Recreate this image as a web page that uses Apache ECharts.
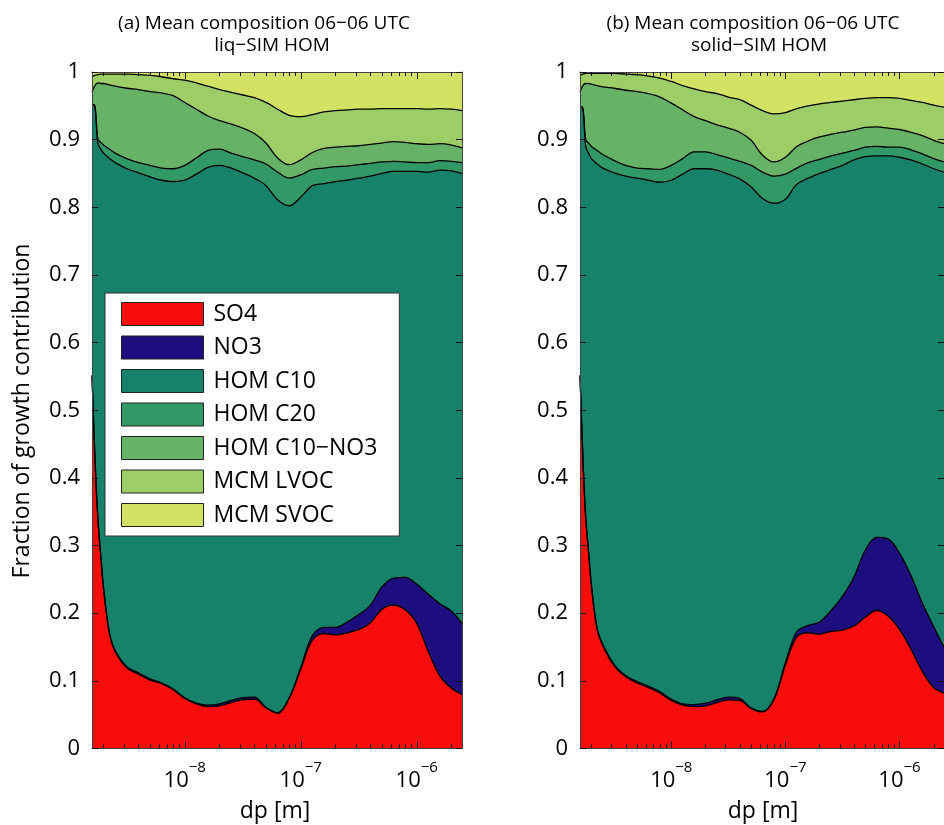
<!DOCTYPE html>
<html><head><meta charset="utf-8">
<script src="https://cdn.jsdelivr.net/npm/echarts@6/dist/echarts.min.js"></script>
<style>html,body{margin:0;padding:0;background:#fff}#c{width:944px;height:825px}</style>
</head><body><div id="c"></div>
<script>
// x positions: log10(dp [m])
const logDp = [-8.8, -8.775, -8.75, -8.725, -8.7, -8.65, -8.6, -8.5, -8.4, -8.3, -8.2, -8.1, -8.0, -7.9, -7.8, -7.7, -7.6, -7.5, -7.4, -7.3, -7.2, -7.1, -7.0, -6.9, -6.8, -6.7, -6.6, -6.5, -6.4, -6.3, -6.2, -6.1, -6.0, -5.9, -5.8, -5.7, -5.61];
const seriesNames = ['SO4', 'NO3', 'HOM C10', 'HOM C20', 'HOM C10\u2212NO3', 'MCM LVOC', 'MCM SVOC'];
const seriesColors = ['#f80c0c', '#1c0e7e', '#17826a', '#309966', '#66b266', '#9ccd66', '#d2e363'];
const xLabelExps = [-8, -7, -6];
const yTickValues = [0, 0.1, 0.2, 0.3, 0.4, 0.5, 0.6, 0.7, 0.8, 0.9, 1];
const panelTitles = [['(a) Mean composition 06\u221206 UTC', 'liq\u2212SIM HOM'], ['(b) Mean composition 06\u221206 UTC', 'solid\u2212SIM HOM']];

// Panel (a): cumulative upper boundary of each component
const aSo4Top = [0.55, 0.43, 0.34, 0.285, 0.235, 0.170, 0.143, 0.119, 0.110, 0.101, 0.096, 0.087, 0.074, 0.066, 0.062, 0.063, 0.068, 0.072, 0.073, 0.060, 0.052, 0.074, 0.117, 0.160, 0.170, 0.168, 0.171, 0.176, 0.186, 0.206, 0.212, 0.205, 0.185, 0.143, 0.107, 0.089, 0.080];
const aNo3Top = [0.552, 0.432, 0.342, 0.287, 0.237, 0.172, 0.145, 0.121, 0.112, 0.103, 0.097, 0.088, 0.075, 0.067, 0.064, 0.066, 0.071, 0.075, 0.076, 0.061, 0.053, 0.075, 0.120, 0.167, 0.179, 0.179, 0.187, 0.198, 0.212, 0.239, 0.252, 0.253, 0.243, 0.228, 0.214, 0.203, 0.185];
const aC10Top = [0.952, 0.949, 0.895, 0.886, 0.880, 0.872, 0.866, 0.857, 0.851, 0.845, 0.840, 0.838, 0.840, 0.849, 0.859, 0.862, 0.858, 0.851, 0.843, 0.832, 0.811, 0.802, 0.815, 0.832, 0.835, 0.838, 0.840, 0.843, 0.846, 0.850, 0.853, 0.853, 0.853, 0.852, 0.855, 0.854, 0.850];
const aC20Top = [0.953, 0.950, 0.901, 0.896, 0.892, 0.886, 0.880, 0.872, 0.866, 0.862, 0.858, 0.857, 0.862, 0.873, 0.884, 0.886, 0.880, 0.875, 0.870, 0.864, 0.852, 0.843, 0.848, 0.856, 0.858, 0.860, 0.861, 0.863, 0.865, 0.867, 0.868, 0.867, 0.866, 0.866, 0.869, 0.868, 0.866];
const aC10No3Top = [0.970, 0.980, 0.984, 0.983, 0.983, 0.981, 0.979, 0.976, 0.974, 0.971, 0.969, 0.965, 0.955, 0.945, 0.935, 0.928, 0.923, 0.917, 0.909, 0.895, 0.873, 0.863, 0.870, 0.881, 0.887, 0.889, 0.890, 0.891, 0.893, 0.895, 0.897, 0.896, 0.894, 0.893, 0.894, 0.892, 0.888];
const aLvocTop = [0.993, 0.995, 0.996, 0.997, 0.997, 0.997, 0.997, 0.997, 0.996, 0.995, 0.993, 0.990, 0.988, 0.984, 0.979, 0.974, 0.970, 0.966, 0.962, 0.955, 0.945, 0.936, 0.934, 0.937, 0.941, 0.943, 0.944, 0.945, 0.945, 0.946, 0.946, 0.946, 0.946, 0.945, 0.946, 0.945, 0.943];
const aSvocTop = [1, 1, 1, 1, 1, 1, 1, 1, 1, 1, 1, 1, 1, 1, 1, 1, 1, 1, 1, 1, 1, 1, 1, 1, 1, 1, 1, 1, 1, 1, 1, 1, 1, 1, 1, 1, 1];

// Panel (b)
const bSo4Top = [0.55, 0.43, 0.34, 0.29, 0.24, 0.176, 0.152, 0.122, 0.106, 0.097, 0.090, 0.082, 0.071, 0.064, 0.062, 0.063, 0.068, 0.072, 0.071, 0.059, 0.054, 0.072, 0.123, 0.165, 0.171, 0.169, 0.173, 0.175, 0.181, 0.194, 0.204, 0.196, 0.176, 0.147, 0.114, 0.090, 0.082];
const bNo3Top = [0.552, 0.432, 0.342, 0.292, 0.242, 0.178, 0.154, 0.124, 0.108, 0.099, 0.092, 0.084, 0.073, 0.066, 0.065, 0.067, 0.072, 0.076, 0.074, 0.060, 0.055, 0.074, 0.127, 0.173, 0.182, 0.187, 0.204, 0.225, 0.253, 0.293, 0.312, 0.310, 0.289, 0.256, 0.215, 0.180, 0.150];
const bC10Top = [0.949, 0.946, 0.890, 0.880, 0.872, 0.864, 0.858, 0.851, 0.846, 0.843, 0.840, 0.837, 0.840, 0.849, 0.857, 0.857, 0.855, 0.849, 0.842, 0.830, 0.813, 0.806, 0.812, 0.834, 0.843, 0.850, 0.856, 0.862, 0.870, 0.875, 0.876, 0.876, 0.874, 0.870, 0.864, 0.857, 0.852];
const bC20Top = [0.950, 0.947, 0.900, 0.895, 0.890, 0.884, 0.878, 0.869, 0.862, 0.858, 0.857, 0.856, 0.862, 0.872, 0.882, 0.882, 0.878, 0.873, 0.868, 0.862, 0.852, 0.846, 0.849, 0.858, 0.866, 0.871, 0.876, 0.880, 0.884, 0.889, 0.890, 0.889, 0.889, 0.885, 0.879, 0.872, 0.867];
const bC10No3Top = [0.970, 0.980, 0.983, 0.983, 0.982, 0.980, 0.978, 0.976, 0.973, 0.971, 0.968, 0.963, 0.954, 0.944, 0.934, 0.928, 0.922, 0.917, 0.911, 0.899, 0.877, 0.867, 0.874, 0.890, 0.898, 0.904, 0.908, 0.911, 0.914, 0.918, 0.919, 0.917, 0.915, 0.911, 0.906, 0.899, 0.894];
const bLvocTop = [0.995, 0.997, 0.998, 0.998, 0.998, 0.998, 0.998, 0.998, 0.997, 0.996, 0.994, 0.991, 0.986, 0.980, 0.975, 0.971, 0.968, 0.963, 0.959, 0.951, 0.943, 0.938, 0.940, 0.946, 0.950, 0.953, 0.955, 0.957, 0.959, 0.961, 0.962, 0.962, 0.961, 0.958, 0.955, 0.951, 0.948];
const bSvocTop = [1, 1, 1, 1, 1, 1, 1, 1, 1, 1, 1, 1, 1, 1, 1, 1, 1, 1, 1, 1, 1, 1, 1, 1, 1, 1, 1, 1, 1, 1, 1, 1, 1, 1, 1, 1, 1];

const panels = [
  [aSo4Top, aNo3Top, aC10Top, aC20Top, aC10No3Top, aLvocTop, aSvocTop],
  [bSo4Top, bNo3Top, bC10Top, bC20Top, bC10No3Top, bLvocTop, bSvocTop]
];

const FONT = '"Open Sans", "Noto Sans", sans-serif';
const X_MIN = -8.8, X_MAX = -5.61;
const gridLefts = [92, 580];
const minorTicks = [];
for (let n = -9; n <= -6; n++) for (let k = 2; k <= 9; k++) {
  const v = n + Math.log10(k);
  if (v > X_MIN && v < X_MAX) minorTicks.push(v);
}

const grids = [], xAxes = [], yAxes = [], series = [];
gridLefts.forEach((left, g) => {
  grids.push({ left: left, top: 72, width: 370, height: 676.5, containLabel: false });
  const base = { type: 'value', gridIndex: g, min: X_MIN, max: X_MAX, splitLine: { show: false }, z: 10 };
  xAxes.push(Object.assign({}, base, {
    position: 'bottom',
    axisLine: { show: true, onZero: false, lineStyle: { color: '#444', width: 1 } },
    axisTick: { show: true, inside: true, length: 7, customValues: xLabelExps, lineStyle: { color: '#111' } },
    axisLabel: {
      show: true, customValues: xLabelExps, margin: 12, color: '#000', fontFamily: FONT, fontSize: 22, lineHeight: 40,
      formatter: v => '10{s|\u2212' + Math.abs(Math.round(v)) + '}',
      rich: { s: { fontSize: 15, lineHeight: 16, verticalAlign: 'top', fontFamily: FONT, color: '#000' } }
    }
  }));
  xAxes.push(Object.assign({}, base, {
    position: 'bottom', axisLine: { show: false, onZero: false },
    axisTick: { show: true, inside: true, length: 4, customValues: minorTicks, lineStyle: { color: '#111' } },
    axisLabel: { show: false }
  }));
  xAxes.push(Object.assign({}, base, {
    position: 'top',
    axisLine: { show: true, onZero: false, lineStyle: { color: '#444', width: 1 } },
    axisTick: { show: true, inside: true, length: 7, customValues: xLabelExps, lineStyle: { color: '#111' } },
    axisLabel: { show: false }
  }));
  xAxes.push(Object.assign({}, base, {
    position: 'top', axisLine: { show: false, onZero: false },
    axisTick: { show: true, inside: true, length: 4, customValues: minorTicks, lineStyle: { color: '#111' } },
    axisLabel: { show: false }
  }));
  yAxes.push({
    type: 'value', gridIndex: g, min: 0, max: 1, interval: 0.1, position: 'left', z: 10,
    splitLine: { show: false },
    axisLine: { show: true, onZero: false, lineStyle: { color: '#444', width: 1 } },
    axisTick: { show: true, inside: true, length: 6, customValues: yTickValues, lineStyle: { color: '#111' } },
    axisLabel: { show: true, customValues: yTickValues, margin: 12, color: '#000', fontFamily: FONT, fontSize: 22,
      formatter: v => String(Math.round(v * 10) / 10) }
  });
  yAxes.push({
    type: 'value', gridIndex: g, min: 0, max: 1, interval: 0.1, position: 'right', z: 10,
    splitLine: { show: false },
    axisLine: { show: true, onZero: false, lineStyle: { color: '#444', width: 1 } },
    axisTick: { show: true, inside: true, length: 6, customValues: yTickValues, lineStyle: { color: '#111' } },
    axisLabel: { show: false }
  });
  const tops = panels[g];
  for (let i = tops.length - 1; i >= 0; i--) {
    series.push({
      type: 'line', name: seriesNames[i], xAxisIndex: g * 4, yAxisIndex: g * 2, z: 2,
      data: logDp.map((x, j) => [x, tops[i][j]]),
      symbol: 'none', showSymbol: false, smooth: 0.35,
      lineStyle: { color: '#000', width: i === tops.length - 1 ? 0 : 1.3 },
      areaStyle: { color: seriesColors[i], opacity: 1, origin: 'start' },
      itemStyle: { color: seriesColors[i] },
      silent: true, animation: false
    });
  }
});

const textEl = (txt, x, y, size, rot) => ({
  type: 'text', x: x, y: y, rotation: rot || 0, silent: true, z: 20,
  style: { text: txt, fill: '#000', font: size + 'px ' + FONT, textAlign: 'center', textVerticalAlign: 'middle', align: 'center', verticalAlign: 'middle' }
});

const graphics = [
  textEl(panelTitles[0][0], 264, 24, 19), textEl(panelTitles[0][1], 272, 46, 19),
  textEl(panelTitles[1][0], 753, 24, 19), textEl(panelTitles[1][1], 759, 46, 19),
  textEl('dp [m]', 275, 811, 23), textEl('dp [m]', 763, 811, 23),
  textEl('Fraction of growth contribution', 22, 411, 23, Math.PI / 2)
];

const chart = echarts.init(document.getElementById('c'), null, { renderer: 'canvas', width: 944, height: 825 });
chart.setOption({
  animation: false,
  backgroundColor: '#fff',
  grid: grids, xAxis: xAxes, yAxis: yAxes, series: series,
  graphic: graphics,
  legend: {
    orient: 'vertical', left: 105, top: 293, z: 20,
    padding: [9, 22, 9, 16], itemWidth: 82, itemHeight: 23, itemGap: 9.5,
    backgroundColor: '#fff', borderColor: '#333', borderWidth: 1, borderRadius: 0,
    selectedMode: false, icon: 'rect',
    itemStyle: { borderColor: '#222', borderWidth: 1 },
    textStyle: { fontFamily: FONT, fontSize: 23, color: '#000', lineHeight: 23, padding: [0, 0, 0, 5] },
    data: seriesNames.map((n, i) => ({ name: n, icon: 'rect', itemStyle: { color: seriesColors[i], borderColor: '#222', borderWidth: 1 } }))
  }
});
</script></body></html>
